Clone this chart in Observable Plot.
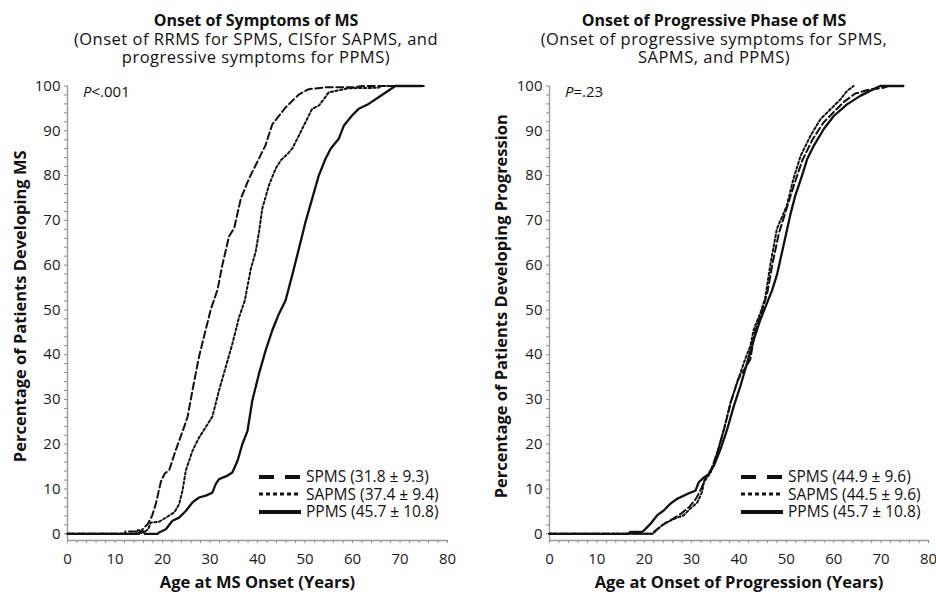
<!DOCTYPE html>
<html><head><meta charset="utf-8">
<script src="https://cdn.jsdelivr.net/npm/d3@7"></script>
<script src="https://cdn.jsdelivr.net/npm/@observablehq/plot@0.6"></script>
<style>
body{margin:0;background:#fff;font-family:"Open Sans",sans-serif;color:#111}
#wrap{position:relative;width:936px;height:597px;overflow:hidden}
.panel{position:absolute;top:0;width:468px;height:597px}
.title{position:absolute;top:11px;width:440px;text-align:center;font-size:16.5px;line-height:18.5px;letter-spacing:0.5px}
.title b{font-weight:700;font-size:16px;letter-spacing:0}
.chart{position:absolute;top:72px;left:0}
.plabel{position:absolute;font-size:15px;line-height:18px}
.legend{position:absolute;font-size:15.5px;line-height:17.5px;white-space:nowrap}
.legend div{display:flex;align-items:center;height:17.5px}
.legend svg{flex:0 0 44px;margin-right:4px}
</style></head>
<body>
<div id="wrap">
  <div class="panel" id="left" style="left:0">
    <div class="title" style="left:36px"><b>Onset of Symptoms of MS</b><br>(Onset of RRMS for SPMS, CISfor SAPMS, and<br>progressive symptoms for PPMS)</div>
    <div class="chart" id="chartL"></div>
    <div class="plabel" style="left:83px;top:82px"><i>P</i>&lt;.001</div>
    <div class="legend" id="legL" style="left:258px;top:468px"></div>
  </div>
  <div class="panel" id="right" style="left:468px">
    <div class="title" style="left:26px"><b>Onset of Progressive Phase of MS</b><br>(Onset of progressive symptoms for SPMS,<br>SAPMS, and PPMS)</div>
    <div class="chart" id="chartR"></div>
    <div class="plabel" style="left:97px;top:82px"><i>P</i>=.23</div>
    <div class="legend" id="legR" style="left:272px;top:468px"></div>
  </div>
</div>
<script>
// ---- data: [age (years), cumulative percentage] ----
const onsetSPMS = [[0,0],[12,0],[12.2,0.5],[14.6,0.5],[14.8,0.2],[15.6,0.2],[15.8,1],[16.9,2.2],[17.8,4],[18.6,6.7],[19.7,11.8],[20.5,13.5],[21.4,14.2],[22.8,18.7],[24.6,24],[25.3,26.2],[26.3,32],[27.7,39.6],[29.1,45.6],[30.2,50.2],[31.6,54.6],[32.6,60],[34,66.4],[35.1,68.3],[36.5,74.9],[38.2,79.3],[40.3,83.8],[41.7,86.8],[43.1,91.4],[45.9,95.2],[48.7,98.1],[50.8,99.3],[54.3,99.7],[60,99.7],[62,100],[75,100]];
const onsetSAPMS = [[0,0],[14.5,0],[14.8,0.8],[15.6,0.8],[16,0.3],[17,1],[17.5,2.5],[19.3,2.7],[20.7,3.6],[22.5,4.8],[23.5,6.6],[24.2,9.6],[24.9,14.1],[26.3,18.5],[27.7,21.5],[29.1,23.8],[30.5,26.2],[31.9,32],[33.3,37.2],[34.7,42.4],[36.1,48.3],[37.3,52],[38.6,59.2],[39.6,62.9],[40.3,67.3],[41,72.6],[42.4,77.8],[43.8,81.5],[44.9,83.4],[46.3,84.8],[47.3,86],[48.7,88.9],[50.1,91.9],[51.5,94.9],[52.9,95.6],[54,97.1],[55,98.6],[57,99],[59.2,99.5],[65.5,99.6],[66,100],[75,100]];
const onsetPPMS = [[0,0],[15,0],[15.3,0.5],[16,0.5],[16.3,0],[19,0],[19.3,0.3],[20.7,1],[22.1,2.9],[23.5,3.6],[24.9,5.1],[26.3,7],[27.7,8.1],[29.1,8.5],[30.5,9.2],[31.2,11.1],[31.9,12.2],[33.7,13],[34.7,13.7],[35.8,16.3],[36.8,20],[37.9,23],[38.9,29.7],[40.3,35.7],[41.7,40.9],[43.1,45.4],[44.5,49.1],[45.9,52.1],[47.3,57.7],[48.7,63.6],[50.1,69.6],[51.5,74.8],[52.9,80],[54.3,83.7],[55.4,86],[57.1,88.2],[58.2,91.2],[59.9,93.4],[61.3,94.9],[63.4,96],[65.5,97.5],[67.6,99],[69,100],[74.6,100]];

const progSPMS = [[0,0],[21.5,0],[22,0.4],[23.6,1.8],[25.5,3],[27.8,4.5],[29.5,6],[30.9,7.8],[32,10],[32.8,12.2],[34.2,14.5],[35.7,19],[37,24],[38.4,29.8],[39.8,34.5],[41.6,37.5],[42.4,39],[43.3,44.8],[44.8,49.5],[46,54],[47.1,60.5],[48.4,67],[50,72.5],[51.8,78.5],[53.4,83.5],[55.5,88],[57.8,91.8],[60,94.2],[62.2,96.5],[64.5,98.3],[67.5,99.2],[70.5,99.6],[71.5,100]];
const progSAPMS = [[0,0],[22,0],[22.2,0.4],[24.1,2.2],[26.2,3.3],[28.3,4.1],[29.7,5.6],[31.2,7],[32.2,9.3],[32.6,11.5],[34,13.7],[35.4,18.1],[36.8,23.3],[38.2,29.3],[39.6,33.7],[41,38.1],[42.4,42],[43.1,45.6],[44.5,49.3],[45.5,52.5],[46.6,60],[48,68.1],[50.1,73.3],[51.5,79.3],[53,84.4],[55.1,88.9],[57.2,92.6],[59.3,94.8],[61.4,97],[62.8,98.9],[64.2,100]];
const progPPMS = [[0,0],[16.7,0],[17,0.4],[19.5,0.4],[19.9,0.7],[21.3,2.2],[22.7,4.1],[24.1,5.2],[25.5,6.7],[26.9,7.8],[29.1,8.9],[30.8,9.6],[31.5,11.5],[32.6,12.6],[33.6,13.3],[34.7,15.2],[36.1,18.9],[37.5,23.3],[38.9,28.5],[40.3,33],[41.7,38.1],[43.1,43.3],[44.5,47.8],[45.9,51.5],[47,54.4],[48,57.8],[49.4,64.4],[50.8,71.1],[51.9,75.6],[53.3,80],[54.4,83.7],[55.8,86.7],[57.9,90.4],[60,93.3],[62.8,95.9],[65.6,97.8],[68.4,99.3],[69.8,100],[74.7,100]];

const xTicks = [0,10,20,30,40,50,60,70,80];
const yTicks = [0,10,20,30,40,50,60,70,80,90,100];
const seriesNames = ["SPMS","SAPMS","PPMS"];
const legendLeft = ["SPMS (31.8 ± 9.3)","SAPMS (37.4 ± 9.4)","PPMS (45.7 ± 10.8)"];
const legendRight = ["SPMS (44.9 ± 9.6)","SAPMS (44.5 ± 9.6)","PPMS (45.7 ± 10.8)"];

const styles = {
  SPMS: {strokeDasharray: "7,3.5", strokeWidth: 2},
  SAPMS: {strokeDasharray: "2.4,2.4", strokeWidth: 2},
  PPMS: {strokeDasharray: null, strokeWidth: 2.3}
};
const rows = arr => arr.map(([age, pct]) => ({age, pct}));

function panel(series, yLabel, xLabel, ml, mr, labelX) {
  return Plot.plot({
    width: 468, height: 525,
    marginTop: 13.5, marginBottom: 57, marginLeft: ml, marginRight: mr,
    x: {domain: [0, 80], label: null},
    y: {domain: [-1.5, 100], label: null},
    style: {fontFamily: "Open Sans, sans-serif", fontSize: "15px", color: "#1a1a1a", background: "transparent", overflow: "visible"},
    marks: [
      Plot.ruleX([0], {stroke: "#9a9a9a", strokeWidth: 1.4}),
      Plot.ruleY([-1.5], {stroke: "#9a9a9a", strokeWidth: 1.4}),
      Plot.axisY({ticks: d3.range(0, 101, 2), tickSize: 3, tickFormat: () => "", stroke: "#8a8a8a", anchor: "left"}),
      Plot.axisY({ticks: yTicks, tickSize: 0, tickPadding: 7, fontSize: 15, anchor: "left"}),
      Plot.axisX({ticks: d3.range(0, 81, 2), tickSize: 3, tickFormat: () => "", stroke: "#8a8a8a", anchor: "bottom"}),
      Plot.axisX({ticks: xTicks, tickSize: 0, tickPadding: 13, fontSize: 15, anchor: "bottom"}),
      ...seriesNames.map(name => Plot.line(rows(series[name]), {
        x: "age", y: "pct", stroke: "#111", ...styles[name], strokeLinejoin: "round"
      })),
      Plot.text([yLabel], {frameAnchor: "left", rotate: -90, textAnchor: "middle", dx: -ml + labelX, dy: -7, fontWeight: "bold", fontSize: 16.5, fill: "#111"}),
      Plot.text([xLabel], {frameAnchor: "bottom", dy: 47, fontWeight: "bold", fontSize: 16.5, fill: "#111"})
    ]
  });
}

document.getElementById("chartL").append(panel({SPMS: onsetSPMS, SAPMS: onsetSAPMS, PPMS: onsetPPMS},
  "Percentage of Patients Developing MS", "Age at MS Onset (Years)", 67, 21, 20));
document.getElementById("chartR").append(panel({SPMS: progSPMS, SAPMS: progSAPMS, PPMS: progPPMS},
  "Percentage of Patients Developing Progression", "Age at Onset of Progression (Years)", 81, 8, 33));

function legend(el, labels) {
  const samples = {
    SPMS: '<line x1="1" y1="9" x2="43" y2="9" stroke="#111" stroke-width="4" stroke-dasharray="15,11"/>',
    SAPMS: '<line x1="1" y1="9" x2="43" y2="9" stroke="#111" stroke-width="3" stroke-dasharray="4,3"/>',
    PPMS: '<line x1="1" y1="9" x2="43" y2="9" stroke="#111" stroke-width="4"/>'
  };
  el.innerHTML = seriesNames.map((n, i) =>
    `<div><svg width="44" height="18">${samples[n]}</svg><span>${labels[i]}</span></div>`).join("");
}
legend(document.getElementById("legL"), legendLeft);
legend(document.getElementById("legR"), legendRight);
</script>
</body></html>
